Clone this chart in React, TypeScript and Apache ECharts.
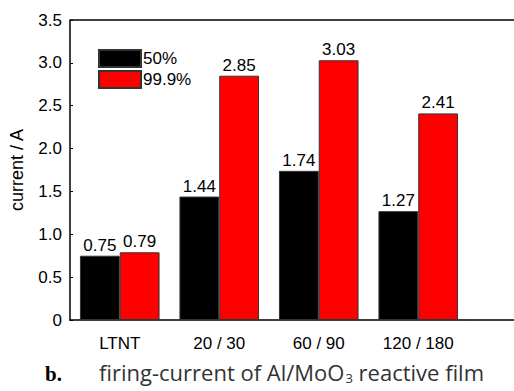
import React, { useEffect, useRef } from "react";
import * as echarts from "echarts";

const categories = ["LTNT", "20 / 30", "60 / 90", "120 / 180"];
const series50 = [0.75, 1.44, 1.74, 1.27];
const series999 = [0.79, 2.85, 3.03, 2.41];
const seriesNames = ["50%", "99.9%"];
const yTicks = { min: 0, max: 3.5, interval: 0.5 };

const FONT = "'Liberation Sans', Arial, sans-serif";
const FS = 17;

export default function App() {
  const ref = useRef<HTMLDivElement>(null);
  useEffect(() => {
    if (!ref.current) return;
    const chart = echarts.init(ref.current, undefined, { renderer: "svg" });
    const label = {
      show: true,
      position: "top",
      distance: 2,
      color: "#000",
      fontFamily: FONT,
      fontSize: FS,
      backgroundColor: "#fff",
      formatter: (p: any) => p.value.toFixed(2),
    };
    chart.setOption({
      animation: false,
      backgroundColor: "#fff",
      textStyle: { fontFamily: FONT },
      grid: { left: 70, right: 46, top: 20, bottom: 71 },
      legend: {
        orient: "vertical",
        left: 93,
        top: 44,
        itemWidth: 42,
        itemHeight: 17,
        itemGap: 2,
        icon: "rect",
        textStyle: { fontFamily: FONT, fontSize: FS, color: "#000", padding: [0, 0, 0, -3] },
        data: seriesNames,
      },
      xAxis: {
        type: "category",
        data: categories,
        axisLine: { lineStyle: { color: "#000", width: 1.5 } },
        axisTick: { show: false },
        axisLabel: { color: "#000", fontSize: FS, fontFamily: FONT, margin: 15, interval: 0 },
      },
      yAxis: {
        type: "value",
        min: yTicks.min,
        max: yTicks.max,
        interval: yTicks.interval,
        name: "current / A",
        nameLocation: "middle",
        nameGap: 44,
        nameTextStyle: { color: "#000", fontSize: 18, fontFamily: FONT },
        axisLine: { show: true, lineStyle: { color: "#000", width: 1.5 } },
        axisTick: { show: true, inside: true, length: 3, lineStyle: { color: "#000" } },
        splitLine: { show: false },
        axisLabel: {
          color: "#000",
          fontSize: FS,
          fontFamily: FONT,
          margin: 8,
          formatter: (v: number) => (v === 0 ? "0" : v.toFixed(1)),
        },
      },
      series: [
        {
          name: seriesNames[0],
          type: "bar",
          data: series50,
          barGap: "0%",
          barCategoryGap: "20%",
          itemStyle: { color: "#000", borderColor: "#333", borderWidth: 1 },
          label,
        },
        {
          name: seriesNames[1],
          type: "bar",
          data: series999,
          barGap: "0%",
          barCategoryGap: "20%",
          itemStyle: { color: "#ff0000", borderColor: "#333", borderWidth: 1 },
          label,
        },
      ],
      graphic: [
        { type: "line", shape: { x1: 70, y1: 20, x2: 514, y2: 20 }, style: { stroke: "#000", lineWidth: 1.5 } },
        { type: "line", shape: { x1: 468, y1: 320, x2: 514, y2: 320 }, style: { stroke: "#000", lineWidth: 1.5 } },
        {
          type: "text",
          left: 45,
          top: 363,
          style: {
            text: "b.",
            font: "bold 21px 'Liberation Serif', serif",
            fill: "#000",
          },
        },
        {
          type: "text",
          left: 99,
          top: 361,
          style: {
            text: "{t|firing-current of Al/MoO}{s|3}{t| reactive film}",
            rich: {
              t: { fontFamily: "'Open Sans', sans-serif", fontSize: 22, fill: "#333" },
              s: { fontFamily: "'Open Sans', sans-serif", fontSize: 13, fill: "#333", padding: [12, 0, 0, 1] },
            },
          },
        },
      ],
    });
    return () => chart.dispose();
  }, []);
  return <div ref={ref} style={{ width: 514, height: 391, position: "absolute", left: 0, top: 0 }} />;
}
